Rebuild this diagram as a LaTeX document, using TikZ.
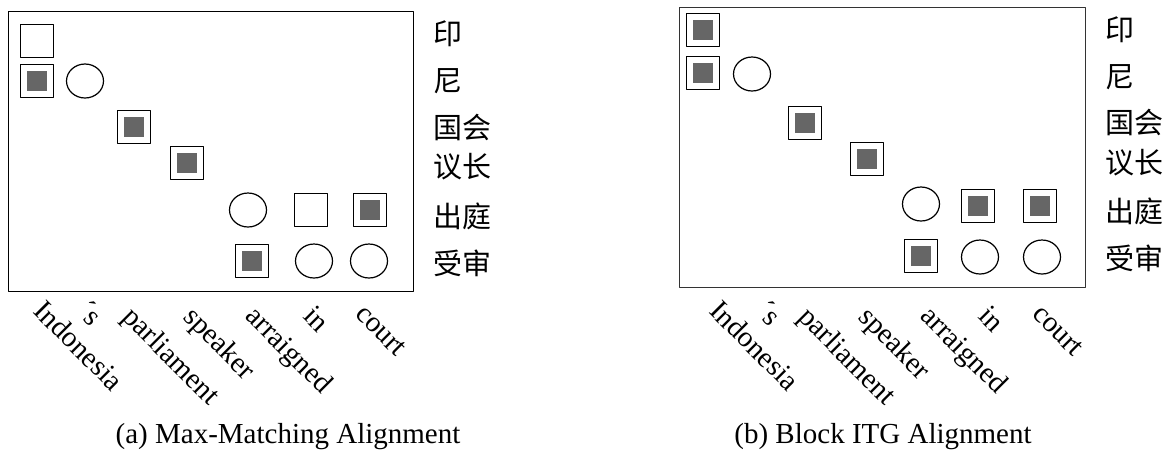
\documentclass[tikz,border=0pt]{standalone}
\usepackage{fontspec}
\setmainfont{Liberation Serif}
\newfontfamily\cjk{Noto Sans CJK SC}
\usetikzlibrary{shapes.geometric}
\definecolor{linkgray}{RGB}{102,102,102}
\begin{document}
\begin{tikzpicture}[x=.5pt, y=-.5pt, font=\fontsize{14.5}{17}\selectfont, line join=round]
	\tikzset{
		cell/.style={draw, line width=.65pt, minimum size=16.5pt, inner sep=0pt},
		poss/.style={cell},
		sure/.style={cell, path picture={\fill[linkgray] ([shift={(3.25pt,3.25pt)}]path picture bounding box.south west) rectangle ([shift={(-3.25pt,-3.25pt)}]path picture bounding box.north east);}},
		circ/.style={ellipse, draw, line width=.6pt, minimum width=18.5pt, minimum height=17pt, inner sep=0pt},
		word/.style={rotate=-45, anchor=north west, inner sep=0pt, text height=.7em, text depth=.25em},
		zh/.style={anchor=west, inner sep=0pt, font=\cjk\fontsize{14.5}{17}\selectfont}
	}
	\useasboundingbox (0,0) rectangle (1166,457);
	% (a) max-matching
	\draw[line width=.5pt] (8,11) rectangle (413,291);
	\node[poss] (a11) at (37,41) {};
	\node[sure] (a21) at (37,81) {};
	\node[circ] (a22) at (85,81) {};
	\node[sure] (a33) at (134,127) {};
	\node[sure] (a44) at (187,163) {};
	\node[circ] (a55) at (248,210) {};
	\node[poss] (a56) at (311,210) {};
	\node[sure] (a57) at (370,210) {};
	\node[sure] (a65) at (252,261) {};
	\node[circ] (a66) at (314,261) {};
	\node[circ] (a67) at (369,261) {};
	\foreach \t/\y [count=\i] in {印/34, 尼/81, 国会/127, 议长/167, 出庭/216, 受审/263}
		\node[zh] (za\i) at (433,\y) {\t};
	\foreach \w/\x/\y [count=\i] in {Indonesia/42/302, ´s/86/302, parliament/131/308, speaker/192/308, arraigned/254/307, in/312/307, court/364/305}
		\node[word] (wa\i) at (\x,\y) {\w};
	\node (capa) at (288,437) {(a) Max-Matching Alignment};
	% (b) block itg
	\draw[line width=.5pt, black!80] (679,7) rectangle (1085,287);
	\node[sure] (b11) at (703,30) {};
	\node[sure] (b21) at (703,73) {};
	\node[circ] (b22) at (752,74) {};
	\node[sure] (b33) at (805,123) {};
	\node[sure] (b44) at (867,159) {};
	\node[circ] (b55) at (921,204) {};
	\node[sure] (b56) at (978,206) {};
	\node[sure] (b57) at (1040,206) {};
	\node[sure] (b65) at (921,256) {};
	\node[circ] (b66) at (980,257) {};
	\node[circ] (b67) at (1042,257) {};
	\foreach \t/\y [count=\i] in {印/30, 尼/77, 国会/122, 议长/163, 出庭/211, 受审/258}
		\node[zh] (zb\i) at (1105,\y) {\t};
	\foreach \w/\x/\y [count=\i] in {Indonesia/718/302, ´s/765/302, parliament/807/308, speaker/867/308, arraigned/929/307, in/987/307, court/1041/305}
		\node[word] (wb\i) at (\x,\y) {\w};
	\node (capb) at (883,437) {(b) Block ITG Alignment};
\end{tikzpicture}
\end{document}
